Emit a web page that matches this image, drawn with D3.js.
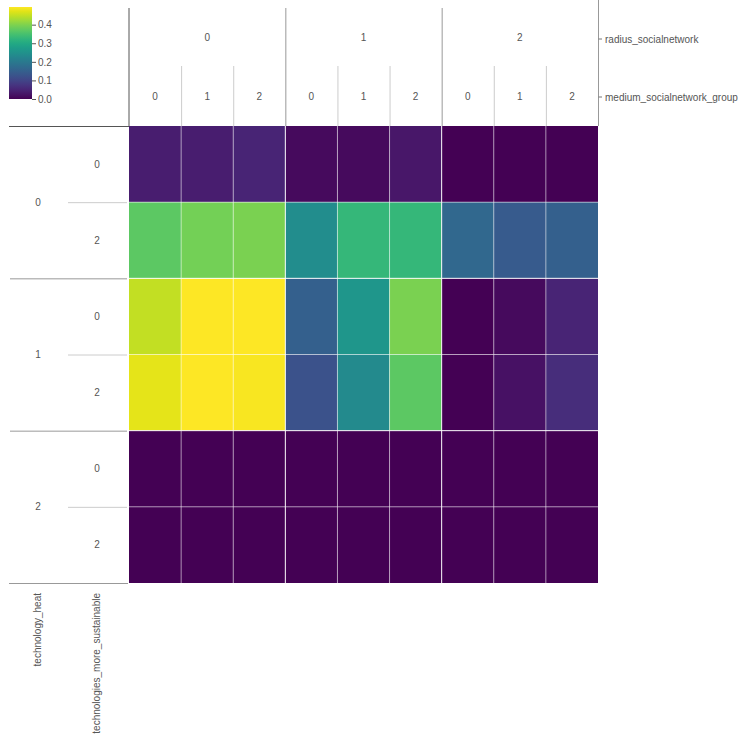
<!DOCTYPE html>
<html><head><meta charset="utf-8">
<script src="https://cdn.jsdelivr.net/npm/d3@7"></script>
<style>body{margin:0;background:#fff}svg{display:block;font-family:"Liberation Sans",Arial,sans-serif}</style>
</head><body><svg id="c" width="748" height="747"></svg>
<script>
const radiusGroups = ["0","1","2"];
const mediumGroups = ["0","1","2"];
const heatGroups = ["0","1","2"];
const sustainGroups = ["0","2"];
const colLevelNames = ["radius_socialnetwork","medium_socialnetwork_group"];
const rowLevelNames = ["technology_heat","technologies_more_sustainable"];
const colorTicks = [0,0.1,0.2,0.3,0.4];
// rows: (heat, sustain); cols: radius x medium
const values = [
  [0.040,0.040,0.050,0.012,0.012,0.030,0.000,0.000,0.000],
  [0.370,0.390,0.395,0.240,0.330,0.330,0.165,0.140,0.150],
  [0.450,0.495,0.495,0.150,0.260,0.395,0.000,0.012,0.050],
  [0.475,0.495,0.490,0.125,0.235,0.370,0.000,0.022,0.062],
  [0.000,0.000,0.000,0.000,0.000,0.000,0.000,0.000,0.000],
  [0.000,0.000,0.000,0.000,0.000,0.000,0.000,0.000,0.000]
];
const colorMax = 0.495;

const svg = d3.select("#c");
const gx0 = 129, gx1 = 598, gy0 = 126, gy1 = 583;
const cols = []; radiusGroups.forEach(r => mediumGroups.forEach(m => cols.push(r+"|"+m)));
const rows = []; heatGroups.forEach(h => sustainGroups.forEach(s => rows.push(h+"|"+s)));
const x = d3.scaleBand().domain(cols).range([gx0,gx1]);
const y = d3.scaleBand().domain(rows).range([gy0,gy1]);
const color = d3.scaleSequential(d3.interpolateViridis).domain([0,colorMax]);
const txt = "#555";

const cells = [];
values.forEach((row,i)=>row.forEach((v,j)=>cells.push({r:rows[i],c:cols[j],v})));
svg.append("g").selectAll("rect").data(cells).join("rect")
  .attr("x",d=>x(d.c)).attr("y",d=>y(d.r)).attr("width",x.bandwidth()).attr("height",y.bandwidth())
  .attr("fill",d=>color(d.v));
const g = svg.append("g");
cols.forEach((c,j)=>{ if(j===0) return; const major = j%3===0;
  g.append("line").attr("x1",x(c)).attr("x2",x(c)).attr("y1",gy0).attr("y2",gy1)
   .attr("stroke","#fff").attr("stroke-opacity",major?0.95:0.5).attr("stroke-width",1);});
rows.forEach((r,i)=>{ if(i===0) return; const major = i%2===0;
  g.append("line").attr("x1",gx0).attr("x2",gx1).attr("y1",y(r)).attr("y2",y(r))
   .attr("stroke","#fff").attr("stroke-opacity",major?0.95:0.5).attr("stroke-width",1);});

const xr = d3.scaleBand().domain(radiusGroups).range([gx0,gx1]);
const hd = svg.append("g").attr("font-size",10).attr("fill",txt);
hd.append("line").attr("x1",gx0).attr("x2",gx0).attr("y1",8).attr("y2",gy0).attr("stroke","#555");
radiusGroups.forEach((r,i)=>{
  if(i>0) hd.append("line").attr("x1",xr(r)+0.5).attr("x2",xr(r)+0.5).attr("y1",8).attr("y2",gy0).attr("stroke","#999");
  hd.append("text").attr("x",xr(r)+xr.bandwidth()/2).attr("y",41).attr("text-anchor","middle").text(r);
  mediumGroups.forEach((m,k)=>{
    const c = r+"|"+m;
    if(k>0) hd.append("line").attr("x1",x(c)+0.5).attr("x2",x(c)+0.5).attr("y1",66).attr("y2",gy0).attr("stroke","#ccc");
    hd.append("text").attr("x",x(c)+x.bandwidth()/2).attr("y",100).attr("text-anchor","middle").text(m);
  });
});
hd.append("line").attr("x1",gx1+0.5).attr("x2",gx1+0.5).attr("y1",0).attr("y2",gy0).attr("stroke","#999");
[[39,colLevelNames[0]],[97,colLevelNames[1]]].forEach(([yy,t])=>{
  hd.append("line").attr("x1",gx1+0.5).attr("x2",gx1+4).attr("y1",yy).attr("y2",yy).attr("stroke","#777");
  hd.append("text").attr("x",gx1+7).attr("y",yy+3.5).text(t);
});

const yr = d3.scaleBand().domain(heatGroups).range([gy0,gy1]);
hd.append("line").attr("x1",9).attr("x2",gx0).attr("y1",gy0+0.5).attr("y2",gy0+0.5).attr("stroke","#555");
heatGroups.forEach((h,i)=>{
  if(i>0) hd.append("line").attr("x1",10).attr("x2",127).attr("y1",yr(h)+0.5).attr("y2",yr(h)+0.5).attr("stroke","#999");
  hd.append("text").attr("x",38).attr("y",yr(h)+yr.bandwidth()/2+3.5).attr("text-anchor","middle").text(h);
  sustainGroups.forEach((s,k)=>{
    const r = h+"|"+s;
    if(k>0) hd.append("line").attr("x1",68).attr("x2",127).attr("y1",y(r)+0.5).attr("y2",y(r)+0.5).attr("stroke","#ccc");
    hd.append("text").attr("x",97).attr("y",y(r)+y.bandwidth()/2+3.5).attr("text-anchor","middle").text(s);
  });
});
hd.append("line").attr("x1",9).attr("x2",128).attr("y1",gy1+0.5).attr("y2",gy1+0.5).attr("stroke","#999");
[[41,rowLevelNames[0]],[100,rowLevelNames[1]]].forEach(([xx,t])=>{
  hd.append("text").attr("transform",`translate(${xx},593) rotate(-90)`).attr("text-anchor","end").text(t);
});

const cbTop = 7, cbBot = 99, cbX = 9, cbW = 23;
const defs = svg.append("defs");
const grad = defs.append("linearGradient").attr("id","vg").attr("x1",0).attr("x2",0).attr("y1",1).attr("y2",0);
d3.range(0,1.0001,0.05).forEach(t=>grad.append("stop").attr("offset",t).attr("stop-color",d3.interpolateViridis(t)));
svg.append("rect").attr("x",cbX).attr("y",cbTop).attr("width",cbW).attr("height",cbBot-cbTop).attr("fill","url(#vg)");
const cy = d3.scaleLinear().domain([0,colorMax]).range([cbBot,cbTop]);
const ax = svg.append("g").attr("transform",`translate(${cbX+cbW},0)`)
  .call(d3.axisRight(cy).tickValues(colorTicks).tickFormat(d3.format(".1f")).tickSize(4));
ax.select(".domain").remove();
ax.selectAll("line").attr("stroke","#555");
ax.selectAll("text").attr("fill",txt).attr("font-size",10).attr("font-family","Liberation Sans, Arial, sans-serif").attr("x",6);
</script></body></html>
